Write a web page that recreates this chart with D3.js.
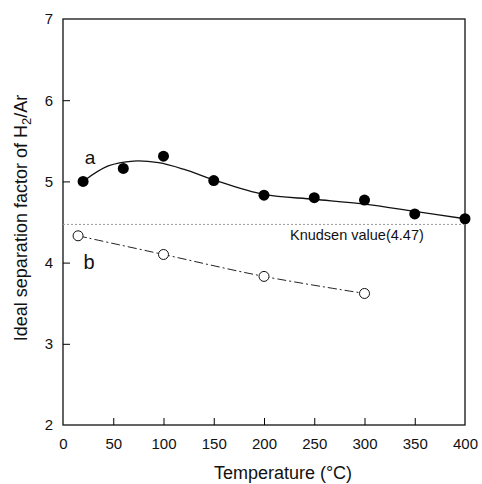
<!DOCTYPE html>
<html>
<head>
<meta charset="utf-8">
<script src="https://cdn.jsdelivr.net/npm/d3@7"></script>
<style>
  body { margin: 0; background: #fff; }
  text { font-family: "Liberation Sans", Arial, sans-serif; fill: #111; }
</style>
</head>
<body>
<div id="chart"></div>
<script>
// données
var tempA = [20, 60, 100, 150, 200, 250, 300, 350, 400];
var factorA = [5.0, 5.16, 5.31, 5.01, 4.83, 4.8, 4.77, 4.6, 4.54];
var tempB = [15, 100, 200, 300];
var factorB = [4.33, 4.1, 3.83, 3.62];
// courbe lissée (a)
var fitTemp = [20, 45, 70, 95, 120, 150, 200, 250, 300, 350, 400];
var fitFactor = [5.0, 5.19, 5.25, 5.23, 5.15, 5.02, 4.84, 4.78, 4.72, 4.63, 4.54];
var knudsen = 4.47;
var xTicks = [0, 50, 100, 150, 200, 250, 300, 350, 400];
var yTicks = [2, 3, 4, 5, 6, 7];

var width = 482,
    height = 484;
var margin = { left: 63, right: 17, top: 19, bottom: 59 };

var svg = d3.select("#chart")
    .append("svg")
    .attr("width", width)
    .attr("height", height);

var x = d3.scaleLinear().domain([0, 400]).range([margin.left, width - margin.right]);
var y = d3.scaleLinear().domain([2, 7]).range([height - margin.bottom, margin.top]);

// cadre
svg.append("rect")
    .attr("x", x(0))
    .attr("y", y(7))
    .attr("width", x(400) - x(0))
    .attr("height", y(2) - y(7))
    .attr("fill", "none")
    .attr("stroke", "#111")
    .attr("stroke-width", 1.3);

// axe x, graduations vers l'intérieur
var xAxis = svg.append("g")
    .attr("transform", "translate(0," + y(2) + ")")
    .call(d3.axisBottom(x).tickValues(xTicks).tickFormat(d3.format("d"))
        .tickSizeInner(-7).tickSizeOuter(0).tickPadding(13));
xAxis.select(".domain").remove();
xAxis.selectAll("text").attr("font-size", 15).attr("font-family", "Liberation Sans, Arial, sans-serif");

// axe y
var yAxis = svg.append("g")
    .attr("transform", "translate(" + x(0) + ",0)")
    .call(d3.axisLeft(y).tickValues(yTicks).tickFormat(d3.format("d"))
        .tickSizeInner(-7).tickSizeOuter(0).tickPadding(10));
yAxis.select(".domain").remove();
yAxis.selectAll("text").attr("font-size", 15).attr("font-family", "Liberation Sans, Arial, sans-serif");
yAxis.selectAll(".tick line").filter(function (d) { return d === 2 || d === 7; }).remove();
xAxis.selectAll(".tick line").filter(function (d) { return d === 0 || d === 400; }).remove();

// ligne de Knudsen
svg.append("line")
    .attr("x1", x(0))
    .attr("x2", x(400))
    .attr("y1", y(knudsen))
    .attr("y2", y(knudsen))
    .attr("stroke", "#999")
    .attr("stroke-width", 1)
    .attr("stroke-dasharray", "2,2");

svg.append("text")
    .attr("x", 290)
    .attr("y", y(knudsen) + 16)
    .attr("text-anchor", "start")
    .attr("font-size", 14.5)
    .text("Knudsen value(4.47)");

// courbe a
var fitData = fitTemp.map(function (t, i) { return [t, fitFactor[i]]; });
var line = d3.line()
    .x(function (d) { return x(d[0]); })
    .y(function (d) { return y(d[1]); })
    .curve(d3.curveCatmullRom);

svg.append("path")
    .datum(fitData)
    .attr("d", line)
    .attr("fill", "none")
    .attr("stroke", "#111")
    .attr("stroke-width", 1.3);

// courbe b (tirets)
var dataB = tempB.map(function (t, i) { return [t, factorB[i]]; });
svg.append("path")
    .datum(dataB)
    .attr("d", line)
    .attr("fill", "none")
    .attr("stroke", "#222")
    .attr("stroke-width", 1)
    .attr("stroke-dasharray", "9,3,2,3");

// points a
svg.selectAll(".ptA")
    .data(tempA)
    .enter()
    .append("circle")
    .attr("class", "ptA")
    .attr("cx", function (d) { return x(d); })
    .attr("cy", function (d, i) { return y(factorA[i]); })
    .attr("r", 5.5)
    .attr("fill", "#000");

// points b
svg.selectAll(".ptB")
    .data(dataB)
    .enter()
    .append("circle")
    .attr("class", "ptB")
    .attr("cx", function (d) { return x(d[0]); })
    .attr("cy", function (d) { return y(d[1]); })
    .attr("r", 5)
    .attr("fill", "#fff")
    .attr("stroke", "#111")
    .attr("stroke-width", 1);

// étiquettes a et b
svg.append("text")
    .attr("x", x(27))
    .attr("y", y(5.22))
    .attr("text-anchor", "middle")
    .attr("font-size", 19)
    .text("a");
svg.append("text")
    .attr("x", x(26))
    .attr("y", y(3.92))
    .attr("text-anchor", "middle")
    .attr("font-size", 20)
    .text("b");

// titres des axes
svg.append("text")
    .attr("x", 283)
    .attr("y", 479)
    .attr("text-anchor", "middle")
    .attr("font-size", 18)
    .text("Temperature (\u00B0C)");

var yLabel = svg.append("text")
    .attr("transform", "translate(27,218) rotate(-90)")
    .attr("text-anchor", "middle")
    .attr("font-size", 18);
yLabel.append("tspan").text("Ideal separation factor of H");
yLabel.append("tspan").attr("font-size", 13).attr("dy", 4).text("2");
yLabel.append("tspan").attr("dy", -4).text("/Ar");
</script>
</body>
</html>
